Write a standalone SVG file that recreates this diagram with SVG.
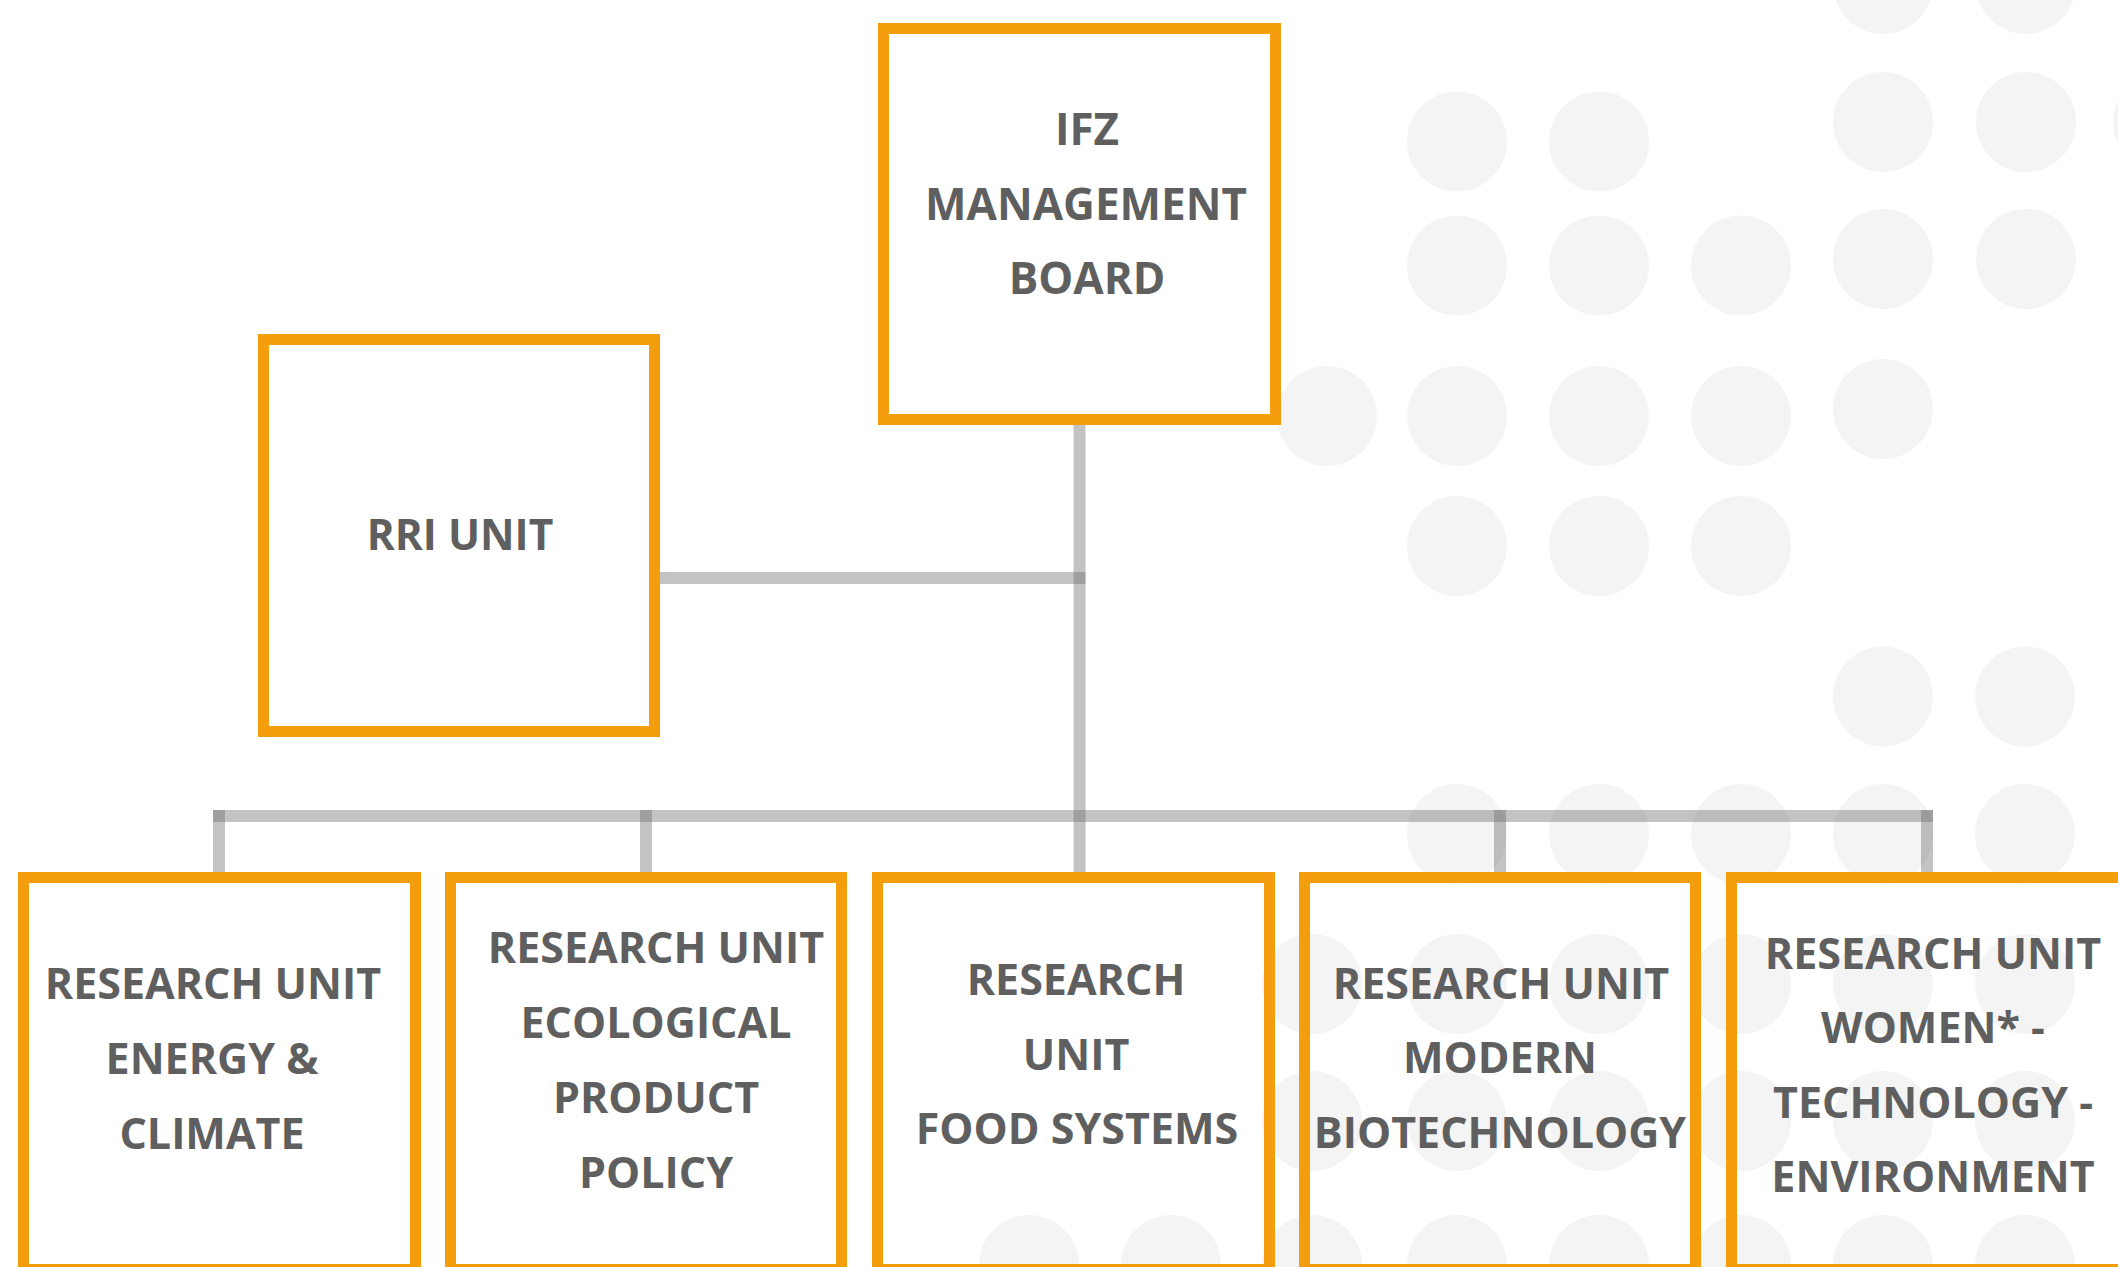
<svg xmlns="http://www.w3.org/2000/svg" width="2118" height="1267" viewBox="0 0 2118 1267">
<style>
.dot{fill:#f4f4f4}
.box{fill:none;stroke:#f49e0e;stroke-width:11}
.ln{stroke:#6a6a6a;stroke-opacity:0.4;stroke-width:12;fill:none}
.t{font-family:"Open Sans","DejaVu Sans",sans-serif;font-weight:700;font-size:43px;fill:#5f5f5f;text-anchor:middle}
.tb{font-size:44px}
.tr{font-size:42.5px}
</style>
<rect width="2118" height="1267" fill="#ffffff"/>
<g id="dots">
<circle class="dot" cx="1883" cy="-16" r="50"/><circle class="dot" cx="2026" cy="-16" r="50"/>
<circle class="dot" cx="1883" cy="122" r="50"/><circle class="dot" cx="2026" cy="122" r="50"/><circle class="dot" cx="2163" cy="122" r="50"/>
<circle class="dot" cx="1457" cy="141.5" r="50"/><circle class="dot" cx="1599" cy="141.5" r="50"/>
<circle class="dot" cx="1883" cy="259" r="50"/><circle class="dot" cx="2026" cy="259" r="50"/>
<circle class="dot" cx="1457" cy="265.5" r="50"/><circle class="dot" cx="1599" cy="265.5" r="50"/><circle class="dot" cx="1741" cy="265.5" r="50"/>
<circle class="dot" cx="1883" cy="409" r="50"/>
<circle class="dot" cx="1327" cy="416" r="50"/><circle class="dot" cx="1457" cy="416" r="50"/><circle class="dot" cx="1599" cy="416" r="50"/><circle class="dot" cx="1741" cy="416" r="50"/>
<circle class="dot" cx="1457" cy="546" r="50"/><circle class="dot" cx="1599" cy="546" r="50"/><circle class="dot" cx="1741" cy="546" r="50"/>
<circle class="dot" cx="1883" cy="696.5" r="50"/><circle class="dot" cx="2025" cy="696.5" r="50"/>
<circle class="dot" cx="1457" cy="834" r="50"/><circle class="dot" cx="1599" cy="834" r="50"/><circle class="dot" cx="1741" cy="834" r="50"/><circle class="dot" cx="1883" cy="834" r="50"/><circle class="dot" cx="2025" cy="834" r="50"/>
<circle class="dot" cx="1312" cy="984" r="50"/><circle class="dot" cx="1457" cy="984" r="50"/><circle class="dot" cx="1599" cy="984" r="50"/><circle class="dot" cx="1741" cy="984" r="50"/><circle class="dot" cx="1883" cy="984" r="50"/><circle class="dot" cx="2025" cy="984" r="50"/>
<circle class="dot" cx="1312" cy="1121" r="50"/><circle class="dot" cx="1457" cy="1121" r="50"/><circle class="dot" cx="1599" cy="1121" r="50"/><circle class="dot" cx="1741" cy="1121" r="50"/><circle class="dot" cx="1883" cy="1121" r="50"/><circle class="dot" cx="2025" cy="1121" r="50"/>
<circle class="dot" cx="1029" cy="1265" r="50"/><circle class="dot" cx="1171" cy="1265" r="50"/><circle class="dot" cx="1312" cy="1265" r="50"/><circle class="dot" cx="1457" cy="1265" r="50"/><circle class="dot" cx="1599" cy="1265" r="50"/><circle class="dot" cx="1741" cy="1265" r="50"/><circle class="dot" cx="1883" cy="1265" r="50"/><circle class="dot" cx="2025" cy="1265" r="50"/>
</g>
<g id="connectors">
<line class="ln" x1="1079.5" y1="425" x2="1079.5" y2="872"/>
<line class="ln" x1="660" y1="578" x2="1085.5" y2="578"/>
<line class="ln" x1="213" y1="816" x2="1933" y2="816"/>
<line class="ln" x1="219" y1="810" x2="219" y2="872"/>
<line class="ln" x1="646" y1="810" x2="646" y2="872"/>
<line class="ln" x1="1500" y1="810" x2="1500" y2="872"/>
<line class="ln" x1="1927" y1="810" x2="1927" y2="872"/>
</g>
<g id="node-board">
<rect class="box" x="883.5" y="28.5" width="392" height="391"/>
<text class="t tb" x="1087" y="145">IFZ</text>
<text class="t tb" x="1086" y="220">MANAGEMENT</text>
<text class="t tb" x="1087" y="294">BOARD</text>
</g>
<g id="node-rri">
<rect class="box" x="263.5" y="339.5" width="391" height="392"/>
<text class="t tr" x="460" y="550">RRI UNIT</text>
</g>
<g id="node-energy">
<rect class="box" x="23.5" y="877.5" width="392" height="392"/>
<text class="t" x="213" y="999">RESEARCH UNIT</text>
<text class="t" x="212" y="1074">ENERGY &amp;</text>
<text class="t" x="212" y="1149">CLIMATE</text>
</g>
<g id="node-ecological">
<rect class="box" x="450.5" y="877.5" width="391" height="392"/>
<text class="t" x="656" y="963">RESEARCH UNIT</text>
<text class="t" x="656" y="1038">ECOLOGICAL</text>
<text class="t" x="656" y="1113">PRODUCT</text>
<text class="t" x="656" y="1188">POLICY</text>
</g>
<g id="node-food">
<rect class="box" x="877.5" y="877.5" width="392" height="392"/>
<text class="t" x="1076" y="995">RESEARCH</text>
<text class="t" x="1076" y="1070">UNIT</text>
<text class="t" x="1077" y="1144">FOOD SYSTEMS</text>
</g>
<g id="node-biotech">
<rect class="box" x="1304.5" y="877.5" width="391" height="392"/>
<text class="t" x="1501" y="999">RESEARCH UNIT</text>
<text class="t" x="1500" y="1073">MODERN</text>
<text class="t" x="1500" y="1148">BIOTECHNOLOGY</text>
</g>
<g id="node-women">
<rect class="box" x="1731.5" y="877.5" width="392" height="392"/>
<text class="t" x="1933" y="969">RESEARCH UNIT</text>
<text class="t" x="1933" y="1043">WOMEN* -</text>
<text class="t" x="1933" y="1118">TECHNOLOGY -</text>
<text class="t" x="1933" y="1192">ENVIRONMENT</text>
</g>
</svg>
